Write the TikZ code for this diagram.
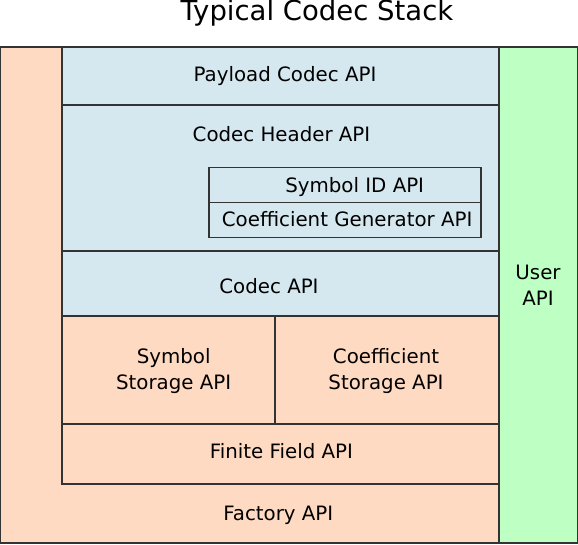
\documentclass[tikz,border=0pt]{standalone}
\usepackage{fontspec}
\setmainfont{DejaVu Sans}
\definecolor{bluebox}{HTML}{D6E8EF}
\definecolor{peach}{HTML}{FFDAC2}
\definecolor{greenbox}{HTML}{BEFFC4}
\definecolor{edge}{HTML}{333333}
\begin{document}
\begin{tikzpicture}[x=1pt,y=-1pt,
  box/.style={draw=edge,line width=1.2pt},
  lbl/.style={inner sep=0pt,anchor=base,font=\fontsize{19.8}{25.3}\selectfont,text=black,align=center},
  ttl/.style={inner sep=0pt,anchor=base,font=\fontsize{27.5}{32}\selectfont,text=black}]
\useasboundingbox (0,0) rectangle (578,544);
% boxes
\path[box,fill=peach] (0.6,47) rectangle (499,543);
\path[box,fill=greenbox] (499,47) rectangle (577.4,543);
\path[box,fill=bluebox] (62,47) rectangle (499,105);
\path[box,fill=bluebox] (62,105) rectangle (499,251);
\path[box,fill=bluebox] (209,167.5) rectangle (481,202.5);
\path[box,fill=bluebox] (209,202.5) rectangle (481,237.5);
\path[box,fill=bluebox] (62,251) rectangle (499,316);
\path[box,fill=peach] (62,316) rectangle (275,424);
\path[box,fill=peach] (275,316) rectangle (499,424);
\path[box,fill=peach] (62,424) rectangle (499,484);
% labels
\node[ttl] (title) at (317,20.7) {Typical Codec Stack};
\node[lbl] (payload) at (285,81.7) {Payload Codec API};
\node[lbl] (header) at (281.5,141) {Codec Header API};
\node[lbl] (symid) at (354.7,192.3) {Symbol ID API};
\node[lbl] (coefgen) at (347.2,226.7) {Coefficient Generator API};
\node[lbl] (codec) at (269,293.3) {Codec API};
\node[lbl] (symstore) at (173.7,389) {Symbol\\Storage API};
\node[lbl] (coefstore) at (386,389) {Coefficient\\Storage API};
\node[lbl] (field) at (281.4,458.3) {Finite Field API};
\node[lbl] (factory) at (278.3,520.7) {Factory API};
\node[lbl] (user) at (538,305) {User\\API};
\end{tikzpicture}
\end{document}
